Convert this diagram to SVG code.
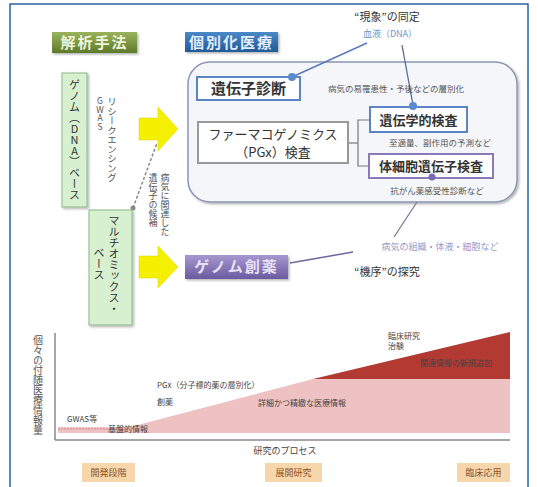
<svg xmlns="http://www.w3.org/2000/svg" width="538" height="487" viewBox="0 0 538 487">
<defs>
<linearGradient id="gOlive" x1="0" y1="0" x2="0" y2="1"><stop offset="0" stop-color="#9ab45c"/><stop offset="1" stop-color="#5e7a2a"/></linearGradient>
<linearGradient id="gBlue" x1="0" y1="0" x2="0" y2="1"><stop offset="0" stop-color="#4a88c8"/><stop offset="1" stop-color="#1f5a98"/></linearGradient>
<linearGradient id="gPurple" x1="0" y1="0" x2="0" y2="1"><stop offset="0" stop-color="#a898d0"/><stop offset="1" stop-color="#6a5aa0"/></linearGradient>
<filter id="sh" x="-10%" y="-10%" width="130%" height="130%"><feDropShadow dx="1.5" dy="1.5" stdDeviation="1" flood-color="#000" flood-opacity="0.3"/></filter>
</defs>
<style>
text{font-family:"Noto Sans CJK JP","Noto Sans",sans-serif;}
.title{font-size:15px;font-weight:bold;letter-spacing:2px;}
.box{fill:#fff;stroke-width:2;}
.bt{font-size:13px;font-weight:bold;fill:#333;}
.sm{font-size:8.5px;fill:#555;}
.vt{writing-mode:vertical-rl;text-orientation:upright;}
.green{fill:#d6f0d0;stroke:#8ab88a;stroke-width:1;}
.orange{fill:#f8d6ac;}
.ot{font-size:9px;fill:#8a5020;text-anchor:middle;}
.cl{font-size:8px;fill:#444;}
</style>
<rect x="10" y="4" width="518" height="495" fill="#fff" stroke="#2a62a0" stroke-width="1.5"/>

<g id="header-analysis">
<rect x="52" y="32" width="85" height="21" fill="url(#gOlive)" filter="url(#sh)"/>
<text x="94.5" y="48" class="title" fill="#eef4dc" text-anchor="middle">解析手法</text>
</g>
<g id="header-personalized">
<rect x="185" y="32" width="93" height="20" fill="url(#gBlue)" filter="url(#sh)"/>
<text x="231.5" y="47.5" class="title" fill="#e4eefa" text-anchor="middle">個別化医療</text>
</g>

<g id="phenomenon">
<text x="387" y="21" font-size="11" fill="#333" text-anchor="middle">“現象”の同定</text>
<text x="390" y="37" font-size="9" fill="#6a9ad0" text-anchor="middle">血液（DNA）</text>
</g>

<g id="personalized-panel">
<rect x="188" y="62" width="329" height="140" rx="22" fill="#f4f6fa" stroke="#8a96b8" stroke-width="1.5" filter="url(#sh)"/>
</g>

<g id="connectors">
<line x1="367" y1="43" x2="292" y2="77" stroke="#5a7ab8" stroke-width="1.5"/>
<line x1="402" y1="45" x2="413" y2="105" stroke="#5a6a90" stroke-width="1.3"/>
<polyline points="348,143 358,143" fill="none" stroke="#777" stroke-width="1.2"/>
<polyline points="370,120 358,120 358,166 370,166" fill="none" stroke="#777" stroke-width="1.2"/>
<line x1="417" y1="202" x2="394" y2="237" stroke="#7a7a9a" stroke-width="1.3"/>
<line x1="290" y1="263" x2="353" y2="252" stroke="#6a6aa0" stroke-width="1.5"/>
<line x1="133" y1="208" x2="157" y2="143" stroke="#888" stroke-width="1.5" stroke-dasharray="3,2"/>
<circle cx="133" cy="208" r="2.5" fill="#888"/>
</g>

<g id="gene-diagnosis">
<rect x="197" y="77" width="103" height="23" class="box" stroke="#5a84c4"/>
<text x="248.5" y="94" class="bt" font-size="15" text-anchor="middle" style="font-size:15px">遺伝子診断</text>
<circle cx="292" cy="77" r="4" fill="#5a8ad0"/>
</g>
<text x="396" y="92" class="sm" text-anchor="middle">病気の易罹患性・予後などの層別化</text>

<g id="genetic-test">
<rect x="370" y="107" width="97" height="25" class="box" stroke="#5a84c4"/>
<text x="418.5" y="124.5" class="bt" text-anchor="middle">遺伝学的検査</text>
<circle cx="413" cy="106" r="4" fill="#5a8ad0"/>
</g>
<text x="440" y="146" class="sm" text-anchor="middle">至適量、副作用の予測など</text>

<g id="pgx-test">
<rect x="198" y="122" width="150" height="41" class="box" stroke="#999" stroke-width="1.5"/>
<text x="273" y="139" class="bt" font-weight="normal" text-anchor="middle" style="font-weight:normal">ファーマコゲノミクス</text>
<text x="273" y="157" class="bt" text-anchor="middle" style="font-weight:normal">（PGx）検査</text>
</g>

<g id="somatic-test">
<rect x="369" y="154" width="124" height="24" class="box" stroke="#8a7ab8"/>
<text x="431" y="171" class="bt" text-anchor="middle">体細胞遺伝子検査</text>
<circle cx="432" cy="177" r="3.5" fill="#7a6ab0"/>
</g>
<text x="437" y="194" class="sm" text-anchor="middle">抗がん薬感受性診断など</text>

<text x="440" y="250" font-size="9" fill="#9a98c8" text-anchor="middle">病気の組織・体液・細胞など</text>

<g id="genome-drug">
<rect x="185" y="255" width="103" height="24" fill="url(#gPurple)" filter="url(#sh)"/>
<text x="236.5" y="272" class="title" fill="#e8e2f6" text-anchor="middle">ゲノム創薬</text>
</g>
<text x="387" y="276" font-size="11" fill="#333" text-anchor="middle">“機序”の探究</text>

<g id="arrow-top">
<polygon points="139,118 158,118 158,107 178,129 158,151 158,140 139,140" fill="#f4f000" stroke="#d8d400" stroke-width="0.5"/>
</g>
<g id="arrow-bottom">
<polygon points="139,256 158,256 158,246 178,267 158,288 158,278 139,278" fill="#f4f000" stroke="#d8d400" stroke-width="0.5"/>
</g>

<g id="genome-dna-base">
<rect x="62" y="73" width="25" height="134" class="green" filter="url(#sh)"/>
<text x="74.5" y="79" class="vt" font-size="11" fill="#333">ゲノム（DNA）ベース</text>
</g>
<text x="112" y="97" class="vt" font-size="9.5" fill="#555">リシークエンシング</text>
<text x="100" y="97" class="vt" font-size="8.5" fill="#555">GWAS</text>

<g id="multiomics-base">
<rect x="89" y="210" width="43" height="115" class="green" filter="url(#sh)"/>
<text x="114" y="215" class="vt" font-size="11" fill="#333">マルチオミックス・</text>
<text x="99" y="247" class="vt" font-size="11" fill="#333">ベース</text>
</g>
<text x="165" y="173" class="vt" font-size="9" fill="#555">病気に関連した</text>
<text x="153" y="173" class="vt" font-size="9" fill="#555">遺伝子の候補</text>

<g id="chart">
<polygon points="58,427 130,427 313,379 510,379 510,433 58,433" fill="#eec2c2"/>
<line x1="58" y1="429" x2="120" y2="429" stroke="#d88a8a" stroke-width="1" stroke-dasharray="2,1"/>
<polygon points="313,379 510,332 510,379" fill="#b23a32"/>
<line x1="55" y1="333" x2="55" y2="440" stroke="#888" stroke-width="1.5"/>
<line x1="55" y1="440" x2="510" y2="440" stroke="#888" stroke-width="1.5"/>
<text x="38" y="335" class="vt" font-size="10" fill="#555">個々の付随医療情報量</text>
<text x="67" y="422" class="cl">GWAS等</text>
<text x="108" y="432" class="cl" fill="#6a3030">基盤的情報</text>
<text x="157" y="388" class="cl">PGx（分子標的薬の層別化）</text>
<text x="157" y="405" class="cl">創薬</text>
<text x="258" y="406" class="cl">詳細かつ精緻な医療情報</text>
<text x="388" y="339" class="cl">臨床研究</text>
<text x="388" y="349" class="cl">治験</text>
<text x="420" y="366" class="cl" fill="#f4dcdc">関連情報の新規追加</text>
<text x="285" y="454" font-size="9" fill="#444" text-anchor="middle">研究のプロセス</text>
</g>

<g id="stage-1">
<rect x="82" y="463" width="53" height="19" class="orange"/>
<text x="108.5" y="476" class="ot">開発段階</text>
</g>
<g id="stage-2">
<rect x="265" y="463" width="57" height="19" class="orange"/>
<text x="293.5" y="476" class="ot">展開研究</text>
</g>
<g id="stage-3">
<rect x="457" y="463" width="53" height="19" class="orange"/>
<text x="483.5" y="476" class="ot">臨床応用</text>
</g>
</svg>
